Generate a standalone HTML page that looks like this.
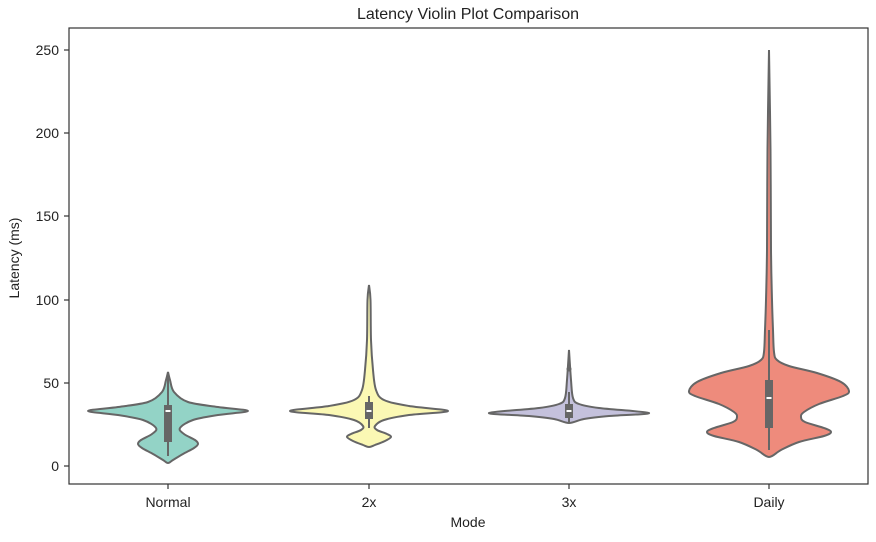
<!DOCTYPE html>
<html><head><meta charset="utf-8"><style>
body{margin:0;background:#fff;}
svg text{font-family:"Liberation Sans","DejaVu Sans",sans-serif;fill:#222;}
</style></head><body>
<svg id="s" width="876" height="537" viewBox="0 0 876 537" xmlns="http://www.w3.org/2000/svg">
<rect width="876" height="537" fill="#fff"/>
<text x="468" y="19" font-size="16" text-anchor="middle">Latency Violin Plot Comparison</text>
<g id="v"></g>
<rect x="69" y="28" width="799" height="456" fill="none" stroke="#333" stroke-width="1.2"/>
<g stroke="#333" stroke-width="1.2">
<line x1="64" y1="466" x2="69" y2="466"/><line x1="64" y1="383" x2="69" y2="383"/><line x1="64" y1="300" x2="69" y2="300"/><line x1="64" y1="216" x2="69" y2="216"/><line x1="64" y1="133" x2="69" y2="133"/><line x1="64" y1="50" x2="69" y2="50"/>
<line x1="168" y1="484" x2="168" y2="489"/><line x1="369" y1="484" x2="369" y2="489"/><line x1="569" y1="484" x2="569" y2="489"/><line x1="769" y1="484" x2="769" y2="489"/>
</g>
<g font-size="14" text-anchor="end">
<text x="59" y="471">0</text><text x="59" y="388">50</text><text x="59" y="305">100</text><text x="59" y="221">150</text><text x="59" y="138">200</text><text x="59" y="55">250</text>
</g>
<g font-size="14" text-anchor="middle">
<text x="168" y="507">Normal</text><text x="369" y="507">2x</text><text x="569" y="507">3x</text><text x="769" y="507">Daily</text>
<text x="468" y="527">Mode</text>
<text transform="translate(19,258) rotate(-90)">Latency (ms)</text>
</g>
</svg>
<script>
function path(cx,p){
 var r=[],l=[];
 p.forEach(function(q){r.push([cx+q[1],q[0]]);});
 for(var i=p.length-1;i>=0;i--)l.push([cx-p[i][1],p[i][0]]);
 var pts=r.concat(l.slice(1));
 var d="M"+pts[0][0]+","+pts[0][1];
 for(var i=0;i<pts.length-1;i++){
  var p0=pts[i-1]||pts[i],p1=pts[i],p2=pts[i+1],p3=pts[i+2]||p2;
  var c1=[p1[0]+(p2[0]-p0[0])/6,p1[1]+(p2[1]-p0[1])/6];
  var c2=[p2[0]-(p3[0]-p1[0])/6,p2[1]-(p3[1]-p1[1])/6];
  d+="C"+c1.join(",")+" "+c2.join(",")+" "+p2.join(",");
 }
 return d+"Z";
}
var V=[
 [168,"#93d3c6",[[372,0],[380,2],[392,6],[402,20],[407,50],[411,80],[415,50],[420,25],[428,12],[434,16],[440,27],[444,30],[448,26],[454,15],[460,5],[463,0]],[405,442],[372,456],411],
 [369,"#fbf8b4",[[285,0],[300,1.5],[340,2],[370,4],[390,7],[400,15],[406,40],[411,79],[415,40],[420,15],[426,6],[430,8],[434,18],[437,22],[441,16],[445,6],[447,0]],[402,419],[396,428],411],
 [569,"#c4c1dc",[[350,0],[380,2],[398,4],[404,10],[408,30],[413,80],[416,40],[419,15],[423,0]],[404,418],[392,423],411],
 [769,"#ee8b7c",[[50,0],[150,1.5],[250,2],[300,3],[330,4],[352,5],[360,8],[366,20],[373,48],[382,72],[391,80],[396,74],[404,50],[412,35],[417,32],[422,36],[428,55],[432,62],[436,55],[442,30],[450,12],[457,0]],[380,428],[330,450],398]
];
var g="";
V.forEach(function(v){
 g+='<path d="'+path(v[0],v[2])+'" fill="'+v[1]+'" stroke="#666" stroke-width="2"/>';
 g+='<line x1="'+v[0]+'" y1="'+v[4][0]+'" x2="'+v[0]+'" y2="'+v[4][1]+'" stroke="#666" stroke-width="2"/>';
 g+='<rect x="'+(v[0]-4)+'" y="'+v[3][0]+'" width="8" height="'+(v[3][1]-v[3][0])+'" fill="#666"/>';
 g+='<line x1="'+(v[0]-2.5)+'" y1="'+v[5]+'" x2="'+(v[0]+2.5)+'" y2="'+v[5]+'" stroke="#fff" stroke-width="2"/>';
});
g+='<circle cx="569" cy="369" r="2.5" fill="#666"/>';
document.getElementById("v").innerHTML=g;
</script>
</body></html>
